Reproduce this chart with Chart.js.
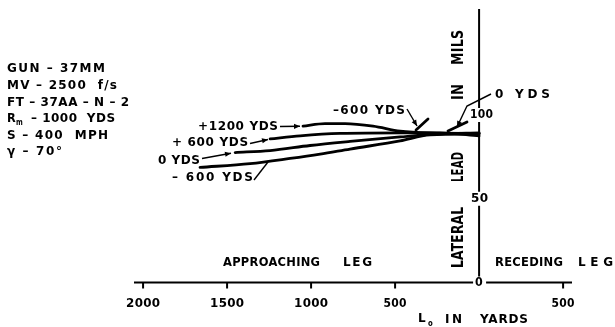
<!DOCTYPE html>
<html>
<head>
<meta charset="utf-8">
<script src="https://cdn.jsdelivr.net/npm/chart.js@4/dist/chart.umd.min.js"></script>
<style>
html,body{margin:0;padding:0;background:#fff;}
canvas{display:block;}
</style>
</head>
<body>
<canvas id="c" width="615" height="327"></canvas>
<script>
// ---- data (x = L0 in yards, approaching leg positive; y = lateral lead in mils)
const yardsP1200 = [1048, 917, 798, 631, 470, 292, 0];
const leadP1200  = [93.4, 94.9, 94.9, 93.4, 90.4, 89.3, 89.0];
const yardsP600  = [1244, 1065, 827, 470, 232, 0];
const leadP600   = [85.7, 87.6, 89.0, 89.3, 89.3, 87.5];
const yards0     = [1452, 1244, 1006, 768, 470, 232, 0];
const lead0      = [77.6, 78.8, 81.8, 84.2, 86.9, 88.7, 89.3];
const yardsM600  = [1661, 1363, 1125, 946, 768, 470, 292, 0];
const leadM600   = [68.7, 71.0, 74.1, 76.7, 79.7, 84.5, 88.1, 88.7];

const xTickValues = [2000, 1500, 1000, 500, -500];
const xTickLabels = ['2000', '1500', '1000', '500', '500'];
const yTickValues = [50, 100];
const yTickLabels = ['50', '100'];

const seriesLabels = ['+1200 YDS', '+600 YDS', '0 YDS', '-600 YDS'];

function pts(xs, ys){ return xs.map((x,i)=>({x:x, y:ys[i]})); }

const FONT = "'DejaVu Sans', sans-serif";

function fitText(ctx, s, x1, x2, y, size){
  ctx.save();
  ctx.font = 'bold ' + size + 'px ' + FONT;
  ctx.letterSpacing = '0px';
  const w = ctx.measureText(s).width;
  const n = Math.max(1, s.length - 1);
  const target = x2 - x1;
  let ls = (target - w) / n;
  let sc = 1;
  if (ls < 0.3) { ls = 0.3; sc = target / (w + ls * n); }
  ctx.letterSpacing = ls.toFixed(2) + 'px';
  ctx.textAlign = 'left';
  ctx.textBaseline = 'middle';
  ctx.fillStyle = '#000';
  ctx.translate(x1, y);
  ctx.scale(sc, 1);
  ctx.fillText(s, 0, 0);
  ctx.restore();
}
function fitCenter(ctx, s, cx, width, y, size){
  fitText(ctx, s, cx - width/2, cx + width/2, y, size);
}
function fitVertical(ctx, s, cx, yBottom, yTop, size){
  ctx.save();
  ctx.translate(cx, yBottom);
  ctx.rotate(-Math.PI/2);
  fitText(ctx, s, 0, yBottom - yTop, 0, size);
  ctx.restore();
}
function arrow(ctx, p, head){
  ctx.save();
  ctx.strokeStyle = '#000';
  ctx.fillStyle = '#000';
  ctx.lineWidth = 1.4;
  ctx.beginPath();
  ctx.moveTo(p[0][0], p[0][1]);
  for (let i=1;i<p.length;i++) ctx.lineTo(p[i][0], p[i][1]);
  ctx.stroke();
  if (head){
    const a = p[p.length-2], b = p[p.length-1];
    const ang = Math.atan2(b[1]-a[1], b[0]-a[0]);
    const L = 6, W = 2.6;
    ctx.beginPath();
    ctx.moveTo(b[0], b[1]);
    ctx.lineTo(b[0] - L*Math.cos(ang) + W*Math.sin(ang), b[1] - L*Math.sin(ang) - W*Math.cos(ang));
    ctx.lineTo(b[0] - L*Math.cos(ang) - W*Math.sin(ang), b[1] - L*Math.sin(ang) + W*Math.cos(ang));
    ctx.closePath();
    ctx.fill();
  }
  ctx.restore();
}
function seg(ctx, x1, y1, x2, y2, w){
  ctx.save();
  ctx.strokeStyle = '#000';
  ctx.lineWidth = w;
  ctx.lineCap = 'round';
  ctx.beginPath(); ctx.moveTo(x1,y1); ctx.lineTo(x2,y2); ctx.stroke();
  ctx.restore();
}

const T = 12;   // main lettering size

const axesPlugin = {
  id: 'axesPlugin',
  beforeDatasetsDraw(chart){
    const ctx = chart.ctx;
    const xs = chart.scales.x, ys = chart.scales.y;
    const x0 = xs.getPixelForValue(0), y0 = ys.getPixelForValue(0);
    ctx.save();
    ctx.strokeStyle = '#000';
    ctx.lineWidth = 2;
    ctx.beginPath();
    ctx.moveTo(xs.left, y0); ctx.lineTo(x0 - 6, y0);
    ctx.moveTo(x0 + 7, y0); ctx.lineTo(xs.right, y0);
    ctx.stroke();
    ctx.beginPath();
    ctx.moveTo(x0, ys.top); ctx.lineTo(x0, y0 - 6);
    ctx.stroke();
    xTickValues.forEach(v=>{
      const px = xs.getPixelForValue(v);
      ctx.beginPath(); ctx.moveTo(px, y0); ctx.lineTo(px, y0 + 6); ctx.stroke();
    });
    ctx.restore();
  },
  afterDraw(chart){
    const ctx = chart.ctx;
    const xs = chart.scales.x, ys = chart.scales.y;
    const x0 = xs.getPixelForValue(0), y0 = ys.getPixelForValue(0);
    // x tick labels
    xTickValues.forEach((v,i)=>{
      const px = xs.getPixelForValue(v);
      const s = xTickLabels[i];
      fitCenter(ctx, s, px, s.length === 4 ? 34 : 23, y0 + 21, T);
    });
    // y tick labels (axis broken behind them)
    yTickValues.forEach((v,i)=>{
      const py = ys.getPixelForValue(v);
      const s = yTickLabels[i];
      const w = s.length === 3 ? 23 : 17;
      const left = s.length === 3 ? x0 - 9 : x0 - 8;
      ctx.save(); ctx.fillStyle = '#fff';
      ctx.fillRect(left - 1, py - 7, w + 2, 14); ctx.restore();
      fitText(ctx, s, left, left + w, py, T);
    });
    fitCenter(ctx, '0', x0, 8, y0 + 0.5, T);

    // axis titles
    fitVertical(ctx, 'LATERAL', 459, 268, 207, 15);
    fitVertical(ctx, 'LEAD', 459, 182, 152, 15);
    fitVertical(ctx, 'IN', 459, 100, 84, 15);
    fitVertical(ctx, 'MILS', 459, 65, 30, 15);

    fitText(ctx, 'L', 418, 427, 319, 12);
    fitText(ctx, 'o', 428, 433, 324, 8);
    fitText(ctx, 'IN', 445, 462, 320, T);
    fitText(ctx, 'YARDS', 480, 528, 320, T);

    fitText(ctx, 'APPROACHING', 223, 320, 263, T);
    fitText(ctx, 'LEG', 343, 372, 263, T);
    fitText(ctx, 'RECEDING', 495, 563, 263, T);
    fitText(ctx, 'LEG', 578, 613, 263, T);

    // data block
    fitText(ctx, 'GUN – 37MM', 7, 105, 69, T);
    fitText(ctx, 'MV – 2500  f/s', 7, 117, 86, T);
    fitText(ctx, 'FT – 37AA – N – 2', 7, 129, 103, T);
    fitText(ctx, 'R', 7, 16, 119, T);
    fitText(ctx, 'm', 16, 23, 123, 8);
    fitText(ctx, '– 1000  YDS', 31, 115, 119, T);
    fitText(ctx, 'S – 400  MPH', 7, 108, 136, T);
    fitText(ctx, 'γ – 70°', 7, 62, 152, T);

    // curve labels
    fitText(ctx, '+1200 YDS', 198, 278, 126.5, T);
    fitText(ctx, '+ 600 YDS', 172, 248, 143, T);
    fitText(ctx, '0 YDS', 158, 200, 161, T);
    fitText(ctx, '– 600 YDS', 172, 253, 178, T);
    fitText(ctx, '–600 YDS', 333, 405, 111, T);
    fitText(ctx, '0 YDS', 495, 550, 95, T);

    // pointers
    arrow(ctx, [[280,126.5],[300,126.3]], true);
    arrow(ctx, [[250,143.5],[268,139.5]], true);
    arrow(ctx, [[202,158.5],[231,153.2]], true);
    arrow(ctx, [[254,180],[268,162]], false);
    arrow(ctx, [[407,109],[417,126]], true);
    seg(ctx, 416, 130, 428, 119, 2.8);
    arrow(ctx, [[491,94],[467,106],[457,127]], true);
    seg(ctx, 448, 131, 467, 122, 2.8);
  }
};

new Chart(document.getElementById('c'), {
  type: 'line',
  data: {
    datasets: [
      { label: seriesLabels[0], data: pts(yardsP1200, leadP1200) },
      { label: seriesLabels[1], data: pts(yardsP600, leadP600) },
      { label: seriesLabels[2], data: pts(yards0, lead0) },
      { label: seriesLabels[3], data: pts(yardsM600, leadM600) }
    ].map(d => Object.assign(d, {
      borderColor: '#000', borderWidth: 2.8, pointRadius: 0, fill: false,
      cubicInterpolationMode: 'monotone', borderCapStyle: 'round'
    }))
  },
  options: {
    responsive: false,
    animation: false,
    devicePixelRatio: 1,
    layout: { padding: { left: 134, right: 43, top: 9, bottom: 44.5 } },
    plugins: { legend: { display: false }, tooltip: { enabled: false } },
    scales: {
      x: { type: 'linear', reverse: true, min: -553, max: 2054, display: false },
      y: { type: 'linear', min: 0, max: 163.3, display: false }
    }
  },
  plugins: [axesPlugin]
});
</script>
</body>
</html>
